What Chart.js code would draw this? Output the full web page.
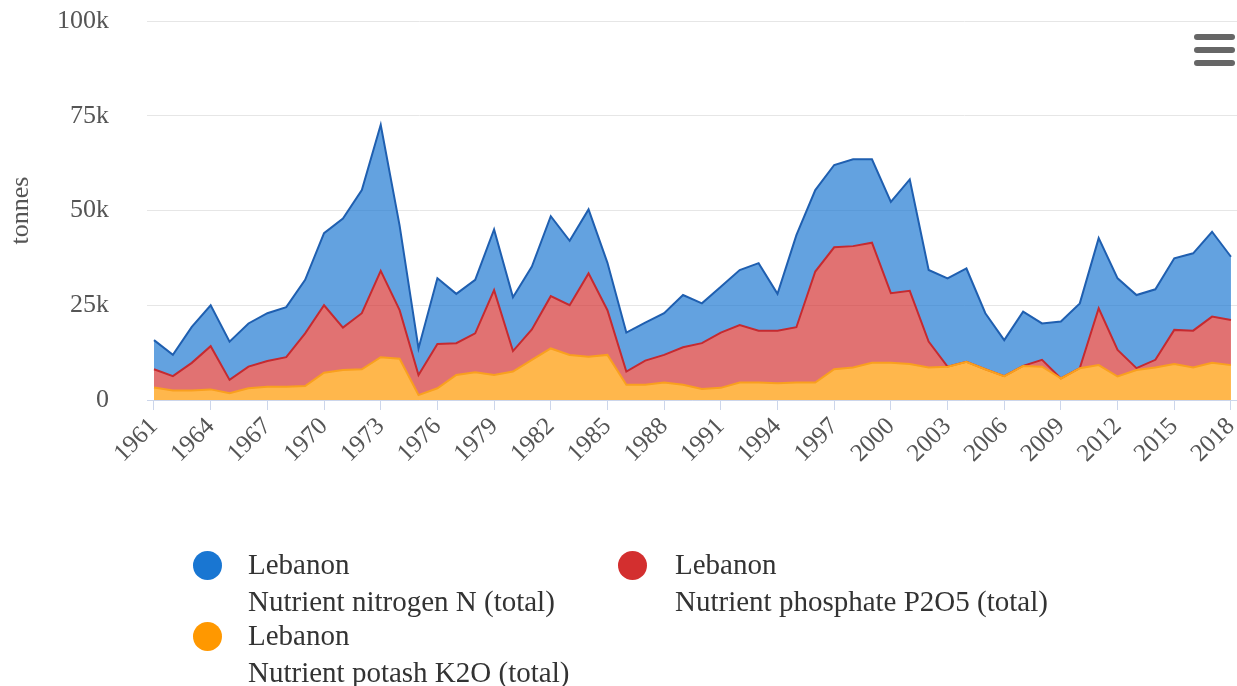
<!DOCTYPE html>
<html>
<head>
<meta charset="utf-8">
<script src="https://cdn.jsdelivr.net/npm/chart.js@4.4.1/dist/chart.umd.min.js"></script>
<style>
  body { margin: 0; background: #fff; }
  #wrap { position: relative; width: 1237px; height: 686px; overflow: hidden; }
  #chart { position: absolute; left: 0; top: 0; }
  .menu { position: absolute; left: 1194px; width: 41px; height: 6px; border-radius: 3px; background: #666; }
  .leg { position: absolute; font-family: 'Liberation Serif', serif; font-size: 29px; color: #333; line-height: 37px; white-space: nowrap; }
  .dot { position: absolute; width: 29px; height: 29px; border-radius: 50%; }
</style>
</head>
<body>
<div id="wrap">
  <canvas id="chart" width="1237" height="686"></canvas>
  <div class="menu" style="top:34px"></div>
  <div class="menu" style="top:47px"></div>
  <div class="menu" style="top:60px"></div>

  <div class="dot" style="left:193px;top:551px;background:#1976d2"></div>
  <div class="leg" style="left:248px;top:546px">Lebanon<br>Nutrient nitrogen N (total)</div>
  <div class="dot" style="left:618px;top:551px;background:#d32f2f"></div>
  <div class="leg" style="left:675px;top:546px">Lebanon<br>Nutrient phosphate P2O5 (total)</div>
  <div class="dot" style="left:193px;top:622px;background:#ff9800"></div>
  <div class="leg" style="left:248px;top:617px">Lebanon<br>Nutrient potash K2O (total)</div>
</div>
<script>
// годы
const years = [1961, 1962, 1963, 1964, 1965, 1966, 1967, 1968, 1969, 1970,
    1971, 1972, 1973, 1974, 1975, 1976, 1977, 1978, 1979, 1980,
    1981, 1982, 1983, 1984, 1985, 1986, 1987, 1988, 1989, 1990,
    1991, 1992, 1993, 1994, 1995, 1996, 1997, 1998, 1999, 2000,
    2001, 2002, 2003, 2004, 2005, 2006, 2007, 2008, 2009, 2010,
    2011, 2012, 2013, 2014, 2015, 2016, 2017, 2018];

// тонны, по сериям (стек: калий снизу, фосфат, азот сверху)
const potash = [3300, 2500, 2500, 2800, 1800, 3100, 3500, 3500, 3700, 7200,
    7900, 8100, 11300, 10900, 1300, 3100, 6600, 7300, 6600, 7500,
    10600, 13600, 11900, 11400, 11900, 4000, 4000, 4600, 4000, 2900,
    3200, 4600, 4600, 4400, 4600, 4600, 8100, 8600, 9800, 9800,
    9500, 8600, 8800, 10100, 8100, 6300, 9000, 8800, 5700, 8400,
    9200, 6200, 7900, 8600, 9500, 8600, 9800, 9200];

const phosphate = [4800, 3800, 7300, 11400, 3500, 5700, 6800, 7800, 13900, 17800,
    11200, 14800, 22800, 12800, 5300, 11700, 8400, 10300, 22400, 5400,
    8000, 13800, 13100, 22000, 11800, 3500, 6400, 7300, 9900, 12100,
    14600, 15200, 13700, 13900, 14600, 29300, 32200, 32000, 31700, 18400,
    19300, 6800, 0, 0, 0, 0, 0, 1800, 0, 0,
    15000, 7000, 500, 2000, 9000, 9700, 12200, 11900];

const nitrogen = [7700, 5600, 9500, 10800, 10100, 11400, 12600, 13200, 14100, 19000,
    28800, 32500, 38500, 22300, 7000, 17300, 13000, 14100, 16000, 14200,
    16600, 21100, 17000, 16900, 12500, 10300, 10000, 11000, 13800, 10500,
    12100, 14500, 17800, 9700, 24300, 21500, 21700, 22900, 22000, 24100,
    29400, 18900, 23300, 24600, 14800, 9500, 14300, 9600, 15000, 17100,
    18500, 18900, 19300, 18600, 18900, 20400, 22400, 16700];

const tickYears = [1961, 1964, 1967, 1970, 1973, 1976, 1979, 1982, 1985, 1988,
    1991, 1994, 1997, 2000, 2003, 2006, 2009, 2012, 2015, 2018];
const yTicks = [0, 25000, 50000, 75000, 100000];

const toPoints = arr => arr.map((v, i) => ({ x: years[i], y: v }));
const serif = 'Liberation Serif';

const ctx = document.getElementById('chart').getContext('2d');
const chart = new Chart(ctx, {
    type: 'line',
    data: {
        datasets: [{
            label: 'Lebanon Nutrient potash K2O (total)',
            data: toPoints(potash),
            borderColor: '#f9a01e',
            backgroundColor: 'rgba(255, 152, 0, 0.7)',
            fill: 'origin'
        }, {
            label: 'Lebanon Nutrient phosphate P2O5 (total)',
            data: toPoints(phosphate),
            borderColor: '#c62a30',
            backgroundColor: 'rgba(211, 47, 47, 0.68)',
            fill: '-1'
        }, {
            label: 'Lebanon Nutrient nitrogen N (total)',
            data: toPoints(nitrogen),
            borderColor: '#1f5fb0',
            backgroundColor: 'rgba(25, 118, 210, 0.68)',
            fill: '-1'
        }]
    },
    options: {
        responsive: false,
        animation: false,
        elements: {
            point: { radius: 0 },
            line: { borderWidth: 2, tension: 0 }
        },
        layout: {
            padding: { top: 21, right: 0, bottom: 206, left: 6 }
        },
        plugins: {
            legend: { display: false },
            tooltip: { enabled: false }
        },
        scales: {
            x: {
                type: 'linear',
                min: 1960.63,
                max: 2018.32,
                afterBuildTicks: axis => {
                    axis.ticks = tickYears.map(v => ({ value: v }));
                },
                afterFit: axis => {
                    axis.height = 80;
                    axis.paddingLeft = 0;
                    axis.paddingRight = 0;
                },
                grid: {
                    drawOnChartArea: false,
                    drawTicks: true,
                    tickLength: 10,
                    color: '#ccd6eb'
                },
                border: { display: true, color: '#ccd6eb' },
                ticks: {
                    autoSkip: false,
                    minRotation: 45,
                    maxRotation: 45,
                    padding: 2,
                    color: '#555',
                    font: { family: serif, size: 25 },
                    callback: v => String(v)
                }
            },
            y: {
                stacked: true,
                min: 0,
                max: 100000,
                afterBuildTicks: axis => {
                    axis.ticks = yTicks.map(v => ({ value: v }));
                },
                afterFit: axis => {
                    axis.width = 141;
                    axis.paddingTop = 0;
                    axis.paddingBottom = 0;
                },
                grid: { color: '#e6e6e6', drawTicks: false },
                border: { display: false },
                ticks: {
                    padding: 38,
                    color: '#555',
                    font: { family: serif, size: 26 },
                    callback: v => v === 0 ? '0' : (v / 1000) + 'k'
                },
                title: {
                    display: true,
                    text: 'tonnes',
                    color: '#555',
                    font: { family: serif, size: 26 },
                    padding: { top: 0, bottom: 8 }
                }
            }
        }
    }
});
</script>
</body>
</html>
